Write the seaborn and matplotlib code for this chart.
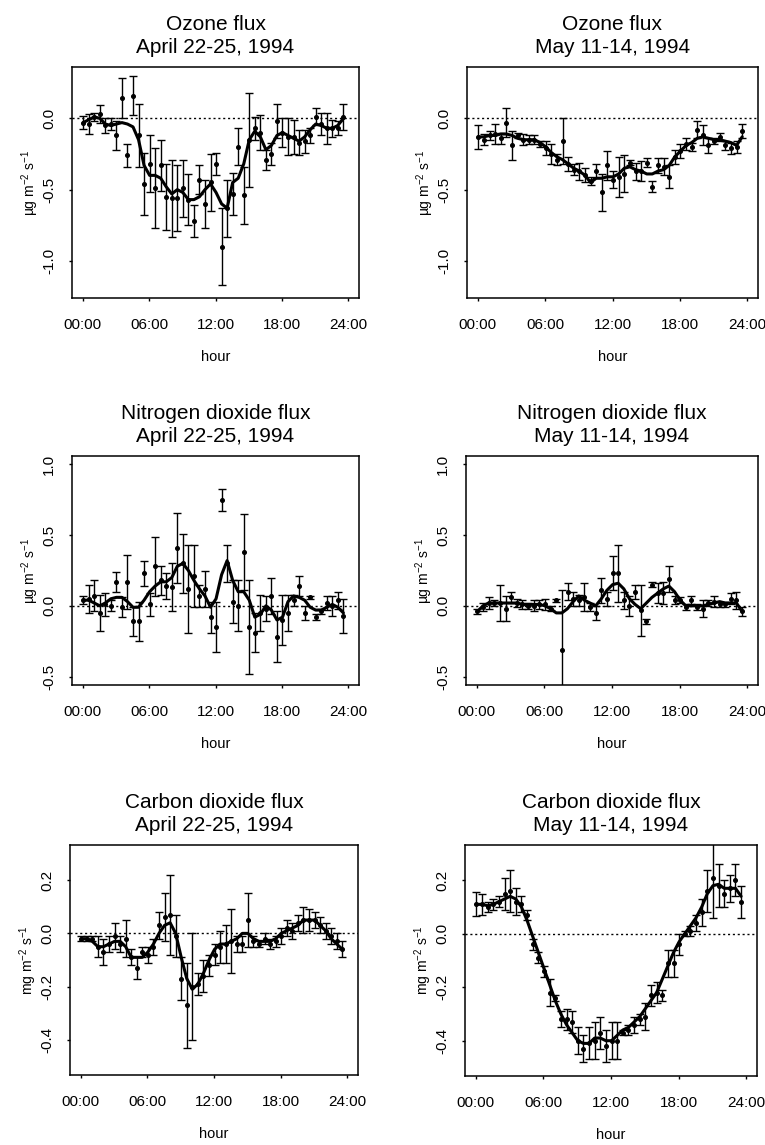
import numpy as np
import matplotlib
matplotlib.use('Agg')
import matplotlib.pyplot as plt
import seaborn as sns

# half-hourly time stamps (hours)
hours = [0.05, 0.55, 1.05, 1.55, 2.05, 2.55, 3.05, 3.55, 4.05, 4.55, 5.05, 5.55,
         6.05, 6.55, 7.05, 7.55, 8.05, 8.55, 9.05, 9.55, 10.05, 10.55, 11.05, 11.55,
         12.05, 12.55, 13.05, 13.55, 14.05, 14.55, 15.05, 15.55, 16.05, 16.55, 17.05, 17.55,
         18.05, 18.55, 19.05, 19.55, 20.05, 20.55, 21.05, 21.55, 22.05, 22.55, 23.05, 23.55]

hour_ticks = [0, 6, 12, 18, 24]
hour_labels = ['00:00', '06:00', '12:00', '18:00', '24:00']

# --- Ozone, April ---
o3_apr = [-0.03, -0.04, 0.01, 0.03, -0.05, -0.04, -0.12, 0.14, -0.26, 0.16, -0.12, -0.46,
          -0.32, -0.49, -0.33, -0.55, -0.56, -0.56, -0.49, -0.57, -0.72, -0.43, -0.60, -0.45,
          -0.32, -0.90, -0.63, -0.53, -0.20, -0.54, -0.15, -0.07, -0.10, -0.29, -0.25, -0.02,
          -0.10, -0.13, -0.13, -0.17, -0.16, -0.12, 0.01, -0.04, -0.07, -0.07, -0.07, 0.01]
o3_apr_err = [0.045, 0.07, 0.03, 0.06, 0.05, 0.04, 0.10, 0.14, 0.08, 0.14, 0.22, 0.22,
              0.20, 0.28, 0.18, 0.23, 0.27, 0.23, 0.20, 0.18, 0.11, 0.10, 0.17, 0.20,
              0.08, 0.27, 0.20, 0.15, 0.13, 0.20, 0.33, 0.08, 0.12, 0.07, 0.08, 0.12,
              0.10, 0.13, 0.12, 0.09, 0.08, 0.05, 0.06, 0.08, 0.11, 0.06, 0.05, 0.09]
o3_apr_fit = [-0.03, -0.01, 0.01, 0.00, -0.04, -0.05, -0.04, -0.03, -0.04, -0.06, -0.15, -0.33,
              -0.40, -0.40, -0.42, -0.48, -0.53, -0.50, -0.52, -0.57, -0.57, -0.55, -0.50, -0.46,
              -0.52, -0.60, -0.63, -0.45, -0.42, -0.32, -0.15, -0.09, -0.13, -0.22, -0.19, -0.12,
              -0.10, -0.12, -0.14, -0.16, -0.13, -0.08, -0.04, -0.05, -0.07, -0.07, -0.05, 0.00]

# --- Ozone, May ---
o3_may = [-0.13, -0.15, -0.12, -0.11, -0.14, -0.03, -0.19, -0.12, -0.15, -0.15, -0.15, -0.18,
          -0.21, -0.25, -0.29, -0.16, -0.32, -0.36, -0.37, -0.40, -0.44, -0.37, -0.52, -0.33,
          -0.43, -0.41, -0.39, -0.31, -0.37, -0.37, -0.31, -0.48, -0.33, -0.34, -0.41, -0.27,
          -0.23, -0.18, -0.20, -0.08, -0.12, -0.19, -0.16, -0.13, -0.19, -0.21, -0.20, -0.09]
o3_may_err = [0.085, 0.04, 0.03, 0.07, 0.04, 0.10, 0.10, 0.02, 0.04, 0.03, 0.03, 0.02,
              0.05, 0.07, 0.04, 0.16, 0.05, 0.04, 0.06, 0.05, 0.03, 0.05, 0.13, 0.10,
              0.06, 0.14, 0.13, 0.02, 0.06, 0.07, 0.03, 0.04, 0.05, 0.06, 0.08, 0.05,
              0.05, 0.04, 0.03, 0.06, 0.07, 0.05, 0.02, 0.03, 0.03, 0.04, 0.04, 0.05]
o3_may_fit = [-0.13, -0.13, -0.12, -0.12, -0.11, -0.11, -0.12, -0.14, -0.15, -0.15, -0.15, -0.17,
              -0.20, -0.24, -0.27, -0.29, -0.32, -0.35, -0.37, -0.40, -0.45, -0.42, -0.42, -0.41,
              -0.41, -0.39, -0.35, -0.34, -0.36, -0.37, -0.39, -0.39, -0.37, -0.36, -0.33, -0.27,
              -0.23, -0.19, -0.17, -0.14, -0.13, -0.14, -0.15, -0.15, -0.16, -0.17, -0.19, -0.13]

# --- Nitrogen dioxide, April ---
no2_apr = [0.04, 0.05, 0.07, -0.05, 0.01, 0.00, 0.17, -0.01, 0.17, -0.11, -0.11, 0.23,
           0.01, 0.28, 0.18, 0.14, 0.13, 0.41, 0.30, 0.12, 0.21, 0.07, 0.12, -0.08,
           -0.15, 0.75, 0.30, 0.03, 0.00, 0.38, -0.15, -0.19, -0.05, -0.02, 0.07, -0.22,
           -0.10, -0.05, 0.04, 0.14, -0.05, 0.06, -0.08, -0.04, 0.02, 0.00, 0.04, -0.07]
no2_apr_err = [0.03, 0.10, 0.11, 0.13, 0.08, 0.04, 0.07, 0.07, 0.19, 0.10, 0.14, 0.09,
               0.08, 0.21, 0.10, 0.09, 0.17, 0.25, 0.21, 0.31, 0.22, 0.08, 0.13, 0.11,
               0.18, 0.08, 0.13, 0.15, 0.18, 0.27, 0.33, 0.14, 0.13, 0.09, 0.13, 0.18,
               0.18, 0.13, 0.04, 0.07, 0.05, 0.01, 0.02, 0.02, 0.05, 0.07, 0.06, 0.12]
no2_apr_fit = [0.04, 0.04, 0.02, 0.00, 0.02, 0.05, 0.06, 0.06, 0.03, -0.01, -0.01, 0.04,
               0.10, 0.14, 0.17, 0.17, 0.20, 0.28, 0.30, 0.25, 0.18, 0.12, 0.07, -0.01,
               0.05, 0.22, 0.32, 0.18, 0.10, 0.10, 0.04, -0.08, -0.06, 0.00, -0.03, -0.10,
               -0.08, 0.03, 0.07, 0.06, 0.04, -0.01, -0.03, -0.03, -0.01, 0.01, -0.01, -0.05]

# --- Nitrogen dioxide, May ---
no2_may = [-0.04, -0.01, 0.02, 0.02, 0.02, -0.02, 0.06, 0.02, 0.01, 0.00, 0.00, 0.01,
           0.01, -0.02, 0.04, -0.31, 0.10, 0.05, 0.04, 0.06, -0.01, -0.05, 0.11, 0.05,
           0.23, 0.23, 0.04, 0.00, 0.10, -0.03, -0.11, 0.15, 0.09, 0.09, 0.19, 0.04,
           0.04, -0.01, 0.04, -0.01, -0.02, 0.02, 0.03, 0.01, 0.01, 0.05, 0.04, -0.04]
no2_may_err = [0.02, 0.03, 0.04, 0.02, 0.13, 0.09, 0.04, 0.03, 0.03, 0.02, 0.04, 0.03,
               0.04, 0.02, 0.01, 0.42, 0.06, 0.05, 0.04, 0.10, 0.03, 0.05, 0.09, 0.05,
               0.12, 0.20, 0.06, 0.07, 0.05, 0.18, 0.02, 0.02, 0.07, 0.08, 0.09, 0.03,
               0.02, 0.02, 0.03, 0.02, 0.06, 0.02, 0.04, 0.02, 0.02, 0.04, 0.06, 0.03]
no2_may_fit = [-0.04, 0.00, 0.02, 0.02, 0.02, 0.02, 0.02, 0.02, 0.01, 0.01, 0.01, 0.01,
               0.00, -0.02, -0.05, -0.05, -0.02, 0.03, 0.07, 0.04, 0.02, 0.00, 0.05, 0.11,
               0.15, 0.16, 0.12, 0.05, 0.01, -0.02, 0.02, 0.06, 0.09, 0.12, 0.14, 0.10,
               0.04, 0.00, 0.00, 0.00, 0.00, 0.01, 0.02, 0.03, 0.02, 0.02, 0.02, -0.04]

# --- Carbon dioxide, April ---
co2_apr = [-0.02, -0.02, -0.02, -0.05, -0.07, -0.04, -0.01, -0.04, -0.02, -0.09, -0.13, -0.07,
           -0.08, -0.05, 0.03, 0.06, 0.07, -0.01, -0.17, -0.27, -0.20, -0.19, -0.16, -0.12,
           -0.08, -0.05, -0.04, -0.03, -0.04, -0.04, 0.05, -0.03, -0.04, -0.02, -0.04, -0.03,
           -0.01, 0.02, 0.01, 0.04, 0.05, 0.05, 0.05, 0.03, 0.01, -0.01, -0.03, -0.06]
co2_apr_err = [0.01, 0.01, 0.01, 0.04, 0.05, 0.03, 0.05, 0.03, 0.07, 0.03, 0.04, 0.02,
               0.03, 0.03, 0.05, 0.09, 0.15, 0.08, 0.08, 0.16, 0.20, 0.04, 0.06, 0.04,
               0.04, 0.06, 0.07, 0.12, 0.03, 0.03, 0.10, 0.02, 0.01, 0.02, 0.02, 0.02,
               0.03, 0.03, 0.03, 0.03, 0.05, 0.04, 0.03, 0.03, 0.03, 0.03, 0.03, 0.03]
co2_apr_fit = [-0.02, -0.02, -0.03, -0.05, -0.05, -0.04, -0.03, -0.03, -0.05, -0.09, -0.09, -0.09,
               -0.07, -0.04, 0.00, 0.03, 0.04, 0.00, -0.09, -0.17, -0.21, -0.19, -0.15, -0.10,
               -0.06, -0.04, -0.04, -0.03, -0.02, 0.00, 0.00, -0.02, -0.03, -0.03, -0.03, -0.02,
               0.00, 0.01, 0.02, 0.03, 0.05, 0.05, 0.05, 0.03, 0.01, -0.02, -0.04, -0.06]

# --- Carbon dioxide, May ---
co2_may = [0.11, 0.11, 0.10, 0.11, 0.12, 0.15, 0.16, 0.12, 0.11, 0.07, -0.04, -0.09,
           -0.14, -0.22, -0.24, -0.32, -0.32, -0.33, -0.40, -0.43, -0.41, -0.40, -0.37, -0.42,
           -0.40, -0.40, -0.37, -0.36, -0.34, -0.32, -0.31, -0.23, -0.22, -0.23, -0.11, -0.11,
           -0.04, 0.00, 0.01, 0.04, 0.08, 0.16, 0.21, 0.18, 0.15, 0.17, 0.20, 0.12]
co2_may_err = [0.045, 0.04, 0.02, 0.02, 0.02, 0.06, 0.08, 0.05, 0.03, 0.02, 0.02, 0.02,
               0.02, 0.05, 0.01, 0.03, 0.04, 0.04, 0.05, 0.05, 0.06, 0.07, 0.06, 0.06,
               0.07, 0.07, 0.01, 0.02, 0.03, 0.02, 0.05, 0.04, 0.04, 0.02, 0.05, 0.05,
               0.04, 0.01, 0.02, 0.03, 0.05, 0.08, 0.15, 0.08, 0.05, 0.05, 0.06, 0.06]
co2_may_fit = [0.11, 0.11, 0.105, 0.11, 0.12, 0.13, 0.14, 0.13, 0.10, 0.05, -0.01, -0.07,
               -0.13, -0.19, -0.25, -0.30, -0.34, -0.37, -0.40, -0.41, -0.41, -0.39, -0.39, -0.40,
               -0.40, -0.38, -0.36, -0.35, -0.33, -0.31, -0.28, -0.25, -0.22, -0.17, -0.12, -0.07,
               -0.03, 0.00, 0.03, 0.06, 0.10, 0.15, 0.18, 0.185, 0.17, 0.17, 0.17, 0.14]

titles = ['Ozone flux', 'Ozone flux', 'Nitrogen dioxide flux', 'Nitrogen dioxide flux',
          'Carbon dioxide flux', 'Carbon dioxide flux']
periods = ['April 22-25, 1994', 'May 11-14, 1994'] * 3
ylabels = ['\u00b5g m$^{-2}$ s$^{-1}$'] * 4 + ['mg m$^{-2}$ s$^{-1}$'] * 2

sns.set_style('ticks')
plt.rcParams['font.family'] = ['Liberation Sans', 'DejaVu Sans']
plt.rcParams['mathtext.default'] = 'regular'
plt.rcParams['axes.unicode_minus'] = False
for key in ['text.color', 'axes.labelcolor', 'xtick.color', 'ytick.color', 'axes.edgecolor']:
    plt.rcParams[key] = 'black'

W, H = 765, 1145
fig = plt.figure(figsize=(W / 100, H / 100), dpi=100)

# axes boxes in pixels: left, top, right, bottom
boxes = [(72, 67, 359, 298), (467, 67, 758, 298),
         (72, 456, 359, 685), (466, 456, 758, 685),
         (70, 845, 358, 1075), (465, 845, 757, 1076)]

panels = [
    (o3_apr, o3_apr_err, o3_apr_fit, (-1.26, 0.36), [-1.0, -0.5, 0.0]),
    (o3_may, o3_may_err, o3_may_fit, (-1.26, 0.36), [-1.0, -0.5, 0.0]),
    (no2_apr, no2_apr_err, no2_apr_fit, (-0.56, 1.06), [-0.5, 0.0, 0.5, 1.0]),
    (no2_may, no2_may_err, no2_may_fit, (-0.56, 1.06), [-0.5, 0.0, 0.5, 1.0]),
    (co2_apr, co2_apr_err, co2_apr_fit, (-0.532, 0.332), [-0.4, -0.2, 0.0, 0.2]),
    (co2_may, co2_may_err, co2_may_fit, (-0.532, 0.332), [-0.4, -0.2, 0.0, 0.2]),
]

for k, (vals, errs, fit, ylim, yticks) in enumerate(panels):
    l, t, r, b = boxes[k]
    ax = fig.add_axes([l / W, 1 - b / H, (r - l) / W, (b - t) / H])

    ax.axhline(0, color='black', linestyle=(0, (1.5, 2)), linewidth=1.0, zorder=1)
    ax.errorbar(hours, vals, yerr=errs, fmt='o', color='black', markersize=2.6,
                elinewidth=1.0, capsize=2.6, capthick=1.0, zorder=2)
    sns.lineplot(x=hours, y=fit, ax=ax, color='black', linewidth=2.2, zorder=3)

    ax.set_xlim(-0.96, 24.96)
    ax.set_ylim(*ylim)
    ax.set_xticks(hour_ticks)
    ax.set_xticklabels(hour_labels)
    ax.set_yticks(yticks)
    ax.set_yticklabels([f'{v:.1f}' for v in yticks], rotation=90, va='center')
    ax.tick_params(direction='out', length=2.5, width=1.0, labelsize=11, pad=9)
    ax.tick_params(axis='x', pad=12)
    for s in ax.spines.values():
        s.set_linewidth(1.1)

    ax.set_xlabel('hour', fontsize=10.5, labelpad=13)
    ax.set_ylabel(ylabels[k], fontsize=10, labelpad=1)
    ax.set_title(titles[k] + '\n' + periods[k], fontsize=15, pad=10, linespacing=1.28)

fig.savefig('out.png', dpi=100, facecolor='white')
